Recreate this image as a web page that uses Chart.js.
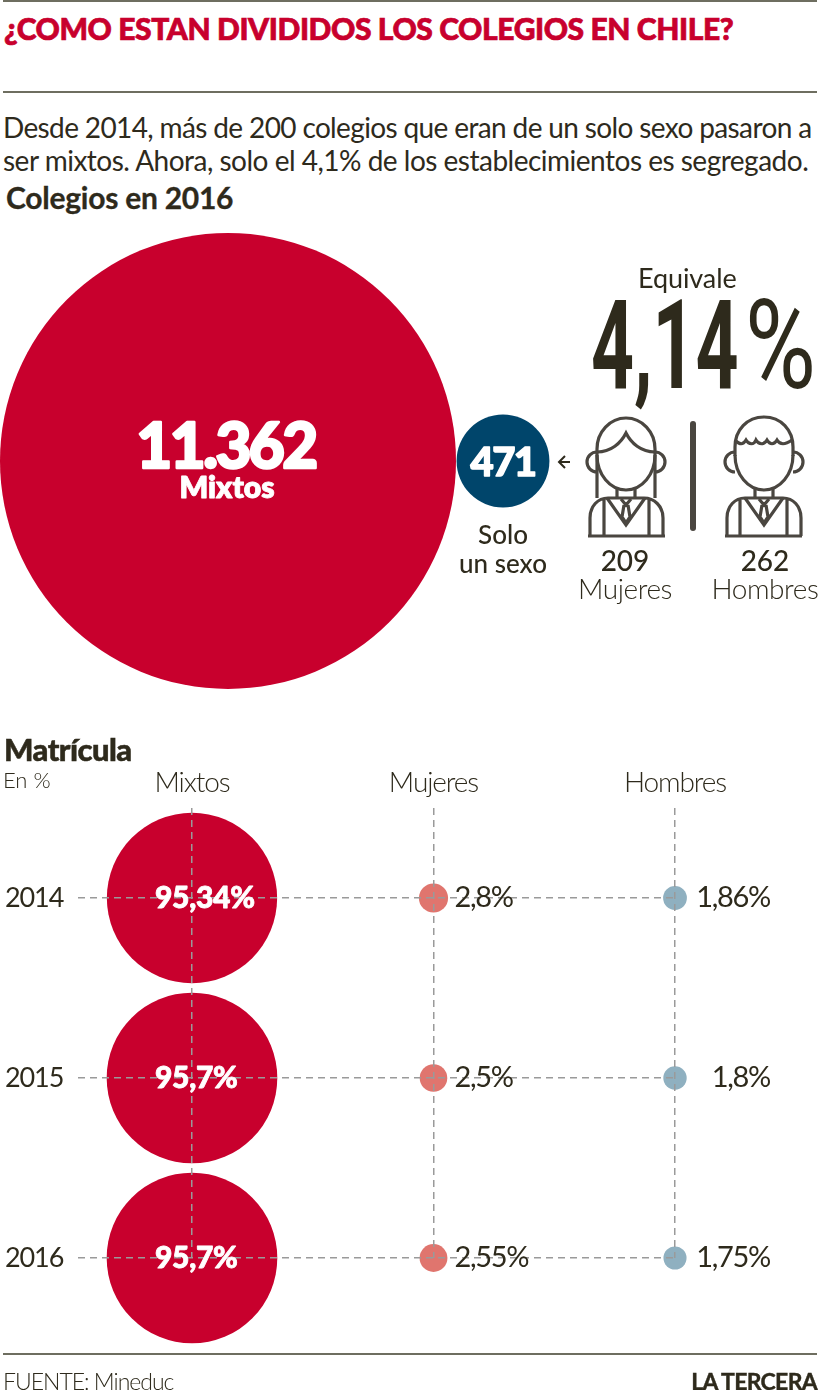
<!DOCTYPE html>
<html lang="es">
<head>
<meta charset="utf-8">
<title>Colegios en Chile</title>
<script src="https://cdn.jsdelivr.net/npm/chart.js@4"></script>
<style>
html, body { margin: 0; padding: 0; background: #fff; }
#pagina { position: relative; width: 820px; height: 1390px; overflow: hidden; font-family: Lato, sans-serif; color: #2e2a1c; }
#pagina canvas { position: absolute; left: 0; }
.t { position: absolute; white-space: nowrap; line-height: 1; }
.linea { position: absolute; left: 3px; width: 814px; height: 1.5px; background: #6e6e60; }
svg { position: absolute; left: 0; top: 0; }
.grande { font-family: Roboto, sans-serif; font-size: 124px; transform-origin: left top; }
</style>
</head>
<body>
<div id="pagina">
  <div class="linea" style="top:0"></div>
  <div class="t" style="left:4px;top:13px;font-size:30px;font-weight:900;color:#c8002d;letter-spacing:-0.4px;-webkit-text-stroke:0.7px #c8002d">¿COMO ESTAN DIVIDIDOS LOS COLEGIOS EN CHILE?</div>
  <div class="linea" style="top:91px"></div>
  <div class="t" style="left:3px;top:113px;font-size:28px;letter-spacing:-0.63px">Desde 2014, más de 200 colegios que eran de un solo sexo pasaron a</div>
  <div class="t" style="left:3px;top:146px;font-size:28px;letter-spacing:-0.5px">ser mixtos. Ahora, solo el 4,1% de los establecimientos es segregado.</div>
  <div class="t" style="left:6px;top:182px;font-size:30px;font-weight:700;letter-spacing:-0.25px;-webkit-text-stroke:0.3px #2e2a1c">Colegios en 2016</div>

  <canvas id="grafColegios" width="820" height="480" style="top:221px"></canvas>

  <div class="t" style="left:638px;top:264px;font-size:27px;font-weight:400;letter-spacing:-0.1px">Equivale</div>
  <div class="t grande" id="equivale" style="left:591px;top:284px;font-weight:700;transform:scaleX(0.605)"></div>
  <div class="t grande" id="equivalePct" style="left:745px;top:284px;font-weight:400;transform:scaleX(0.78)">%</div>

  <svg width="820" height="1390" fill="none" stroke="#4a4640" stroke-width="3.2">
    <path d="M570 462H559M565 456l-6 6 6 6" stroke="#2e2a1c" stroke-width="2"/>
    <path d="M693 424V528" stroke-width="6" stroke-linecap="round"/>
    <!-- mujer -->
    <path d="M597 455a29 35 0 0 0 58 0"/>
    <path d="M597 498V449a29 31 0 0 1 58 0V498"/>
    <path d="M597 452c14 0 24-9 29-19 5 10 15 19 29 19"/>
    <path d="M597 452a10 10 0 0 0 0 20M655 452a10 10 0 0 1 0 20"/>
    <path d="M588 536h77M590 536v-18c0-12 8-20 18-20h36c10 0 19 8 19 20v18M604 498v38M649 498v38"/>
    <path d="M617 489v9M635 489v9M607 498l19 27 19-27M621 499l5 6 5-6M624 505l-2 12 4 6 4-6-2-12"/>
    <!-- hombre -->
    <path d="M735 455a29 35 0 0 0 58 0"/>
    <path d="M735 456V447c0-17 12-30 29-30s29 13 29 30V456"/>
    <path d="M735 440c5 5 8 5 11 0 3 5 8 5 10 0 3 5 8 5 11 0 3 5 7 5 10 0 3 5 8 5 15 0"/>
    <path d="M735 452a10 10 0 0 0 0 20M793 452a10 10 0 0 1 0 20"/>
    <path d="M725 536h77M727 536v-18c0-12 8-20 18-20h38c10 0 18 8 18 20v18M740 498v38M787 498v38"/>
    <path d="M755 489v9M773 489v9M745 498l19 27 19-27M759 499l5 6 5-6M762 505l-2 12 4 6 4-6-2-12"/>
  </svg>
  <div id="conteos"></div>

  <div class="t" style="left:4px;top:734px;font-size:31px;font-weight:900;letter-spacing:-0.55px;-webkit-text-stroke:0.5px #2e2a1c">Matrícula</div>
  <div class="t" style="left:3px;top:769px;font-size:22px;font-weight:300">En %</div>

  <canvas id="grafMatricula" width="820" height="600" style="top:760px"></canvas>

  <div class="linea" style="top:1353px"></div>
  <div class="t" style="left:3px;top:1370px;font-size:23px;font-weight:300;letter-spacing:-1px">FUENTE: Mineduc</div>
  <div class="t" style="right:3px;top:1370px;font-size:23px;font-weight:700;letter-spacing:-0.7px;-webkit-text-stroke:0.4px #2e2a1c">LA TERCERA</div>
</div>

<script>
// colegios 2016
const tiposColegio = ['Mixtos', 'Solo un sexo'];
const totalColegios = [11362, 471];
const textoColegios = ['11.362', '471'];
const coloresColegio = ['#c8002d', '#00456b'];

// colegios de un solo sexo
const tiposUnSexo = ['Mujeres', 'Hombres'];
const conteoUnSexo = [209, 262];
const equivale = '4,14';

// matricula en %
const anios = [2014, 2015, 2016];
const columnas = ['Mixtos', 'Mujeres', 'Hombres'];
const matMixtos = [95.34, 95.7, 95.7];
const matMujeres = [2.8, 2.5, 2.55];
const matHombres = [1.86, 1.8, 1.75];
const coloresMatricula = ['#c8002d', '#e0756e', '#8fb0c0'];

const fmt = v => String(v).replace('.', ',') + '%';

document.getElementById('equivale').textContent = equivale;
document.getElementById('conteos').innerHTML = tiposUnSexo.map((t, i) => {
    let cx = [625, 765][i];
    return `<div class="t" style="left:${cx - 60}px;width:120px;text-align:center;top:546px;font-size:28px;font-weight:500">${conteoUnSexo[i]}</div>` +
        `<div class="t" style="left:${cx - 60}px;width:120px;text-align:center;top:574px;font-size:28px;font-weight:300;letter-spacing:-0.4px">${t}</div>`;
}).join('');

// el area del circulo es proporcional al valor
const kColegios = 228 / Math.sqrt(totalColegios[0]);
const kMatricula = 87.2 / Math.sqrt(100);

function textoGrueso(ctx, txt, x, y, grosor) {
    ctx.lineWidth = grosor;
    ctx.lineJoin = 'round';
    ctx.strokeStyle = ctx.fillStyle;
    ctx.strokeText(txt, x, y);
    ctx.fillText(txt, x, y);
}

const etiquetasColegios = {
    id: 'etiquetasColegios',
    afterDatasetsDraw(chart) {
        const ctx = chart.ctx;
        const pts = chart.getDatasetMeta(0).data;
        ctx.save();
        ctx.textAlign = 'center';
        ctx.textBaseline = 'middle';
        ctx.fillStyle = '#fff';
        ctx.font = '900 62px Lato';
        ctx.letterSpacing = '-2.5px';
        textoGrueso(ctx, textoColegios[0], pts[0].x - 2, pts[0].y - 13, 2.5);
        ctx.letterSpacing = '0px';
        ctx.font = '800 30px Lato';
        textoGrueso(ctx, tiposColegio[0], pts[0].x - 1, pts[0].y + 27, 0.8);
        ctx.font = '900 40px Lato';
        ctx.letterSpacing = '-1.5px';
        textoGrueso(ctx, textoColegios[1], pts[1].x, pts[1].y + 2, 1.5);
        ctx.letterSpacing = '0px';
        ctx.fillStyle = '#2e2a1c';
        ctx.font = '500 26px Lato';
        ctx.fillText('Solo', pts[1].x, pts[1].y + 75);
        ctx.fillText('un sexo', pts[1].x, pts[1].y + 104);
        ctx.restore();
    }
};

new Chart(document.getElementById('grafColegios'), {
    type: 'bubble',
    data: {
        labels: tiposColegio,
        datasets: [{
            data: totalColegios.map((v, i) => ({ x: tiposColegio[i], y: 0, r: kColegios * Math.sqrt(v) })),
            backgroundColor: coloresColegio,
            borderWidth: 0,
            hoverBorderWidth: 0,
            clip: false
        }]
    },
    options: {
        responsive: false,
        animation: false,
        layout: { padding: { left: 228, right: 317 } },
        plugins: { legend: { display: false }, tooltip: { enabled: false } },
        scales: {
            x: { type: 'category', offset: false, display: false },
            y: { type: 'linear', min: -1, max: 1, display: false }
        }
    },
    plugins: [etiquetasColegios]
});

const etiquetasMatricula = {
    id: 'etiquetasMatricula',
    beforeDraw(chart) {
        chart.ctx.letterSpacing = '-1.1px';
    },
    afterDraw(chart) {
        const ctx = chart.ctx;
        ctx.save();
        ctx.textBaseline = 'middle';
        ctx.letterSpacing = '-0.3px';
        chart.getDatasetMeta(0).data.forEach((p, i) => {
            ctx.fillStyle = '#fff';
            ctx.font = '900 30px Lato';
            ctx.textAlign = 'left';
            textoGrueso(ctx, fmt(matMixtos[i]), p.x - 37, p.y, 0.8);
        });
        ctx.fillStyle = '#2e2a1c';
        ctx.font = '400 29px Lato';
        ctx.letterSpacing = '-1.3px';
        chart.getDatasetMeta(1).data.forEach((p, i) => {
            ctx.textAlign = 'left';
            ctx.fillText(fmt(matMujeres[i]), p.x + 21, p.y);
        });
        chart.getDatasetMeta(2).data.forEach((p, i) => {
            ctx.textAlign = 'right';
            ctx.fillText(fmt(matHombres[i]), p.x + 95, p.y);
        });
        ctx.restore();
    }
};

function serie(valores, col, color) {
    return {
        data: valores.map((v, i) => ({ x: col, y: anios[i], r: kMatricula * Math.sqrt(v) })),
        backgroundColor: color,
        borderWidth: 0,
        hoverBorderWidth: 0,
        clip: false
    };
}

new Chart(document.getElementById('grafMatricula'), {
    type: 'bubble',
    data: {
        datasets: [
            serie(matMixtos, 0, coloresMatricula[0]),
            serie(matMujeres, 1, coloresMatricula[1]),
            serie(matHombres, 2, coloresMatricula[2])
        ]
    },
    options: {
        responsive: false,
        animation: false,
        layout: { autoPadding: false, padding: { left: 5, right: 145, bottom: 102 } },
        plugins: { legend: { display: false }, tooltip: { enabled: false } },
        scales: {
            x: {
                type: 'linear',
                position: 'top',
                min: -0.472,
                max: 2,
                afterBuildTicks: s => { s.ticks = columnas.map((c, i) => ({ value: i })); },
                afterFit: s => { s.height = 48; },
                grid: { color: '#9a9a9a', lineWidth: 1.5, drawTicks: false, z: 1 },
                border: { display: false, dash: [7, 5] },
                ticks: {
                    callback: v => columnas[v],
                    autoSkip: false,
                    maxRotation: 0,
                    padding: 8,
                    color: '#2e2a1c',
                    font: { family: 'Lato', size: 28, weight: 300 }
                }
            },
            y: {
                type: 'linear',
                reverse: true,
                min: 2013.5,
                max: 2016,
                afterBuildTicks: s => { s.ticks = anios.map(a => ({ value: a })); },
                afterFit: s => { s.width = 73; },
                grid: { color: '#9a9a9a', lineWidth: 1.5, drawTicks: false, z: 1 },
                border: { display: false, dash: [7, 5] },
                ticks: {
                    callback: v => String(v),
                    autoSkip: false,
                    crossAlign: 'far',
                    padding: 4,
                    color: '#2e2a1c',
                    font: { family: 'Lato', size: 27, weight: 400 }
                }
            }
        }
    },
    plugins: [etiquetasMatricula]
});
</script>
</body>
</html>
